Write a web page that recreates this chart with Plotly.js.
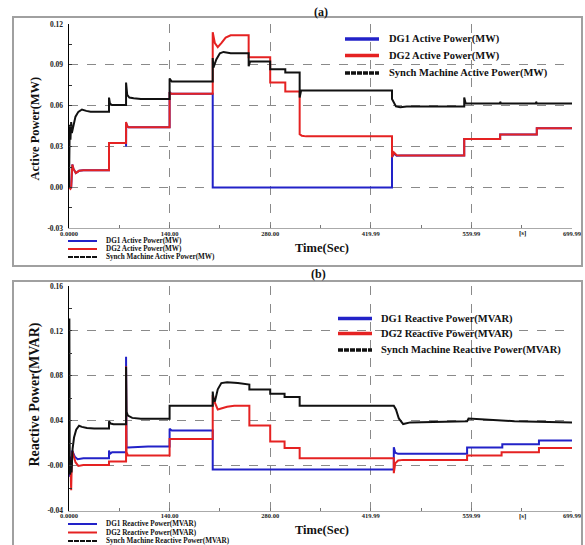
<!DOCTYPE html>
<html>
<head>
<meta charset="utf-8">
<script src="https://cdn.plot.ly/plotly-3.0.1.min.js"></script>
<style>html,body{margin:0;padding:0;background:#fff;}#chart{width:585px;height:545px;}</style>
</head>
<body>
<div id="chart"></div>
<script>
// ---------- Axis ticks ----------
const tickTimes = [0, 140, 280, 419.99, 559.99, 699.99];
const tickTimeLabels = ["0.0000", "140.00", "280.00", "419.99", "559.99", "699.99"];
const activeTicks = [-0.03, 0.00, 0.03, 0.06, 0.09, 0.12];
const activeTickLabels = ["-0.03", "0.00", "0.03", "0.06", "0.09", "0.12"];
const reactiveTicks = [-0.04, 0.00, 0.04, 0.08, 0.12, 0.16];
const reactiveTickLabels = ["-0.04", "-0.00", "0.04", "0.08", "0.12", "0.16"];

// ---------- Data: (a) Active power ----------
const tDG1a = [0, 2, 3, 4.6, 6, 9.5, 14, 20, 55.7, 55.7, 57, 79.4, 79.4, 79.6, 81, 83, 140, 140, 142, 200, 200, 449.5, 449.5, 452, 456, 462, 550, 550, 600, 600, 651, 651, 699.99];
const dg1Active = [0, 0, 0, 0.0168, 0.014, 0.0105, 0.0122, 0.0126, 0.0126, 0.0327, 0.0327, 0.0327, 0.030, 0.047, 0.045, 0.0442, 0.0442, 0.070, 0.0688, 0.0688, 0, 0, 0.0222, 0.0250, 0.0232, 0.0234, 0.0234, 0.0356, 0.0356, 0.0388, 0.0388, 0.0434, 0.0434];

const tDG2a = [0, 2, 3, 4.6, 6, 9.5, 14, 20, 55.7, 55.7, 57, 79.4, 79.4, 81, 83, 140, 140, 142, 200, 200, 203, 207, 212, 218, 225, 250, 250, 280, 280, 301, 301, 321, 321, 324, 330, 449.5, 449.5, 452, 456, 462, 550, 550, 600, 600, 651, 651, 699.99];
const dg2Active = [0, -0.001, 0, 0.0168, 0.014, 0.0105, 0.0122, 0.0126, 0.0126, 0.0327, 0.0327, 0.0327, 0.048, 0.045, 0.0442, 0.0442, 0.070, 0.0688, 0.0688, 0.114, 0.106, 0.103, 0.106, 0.110, 0.1117, 0.1117, 0.0956, 0.0956, 0.0771, 0.0771, 0.0705, 0.0705, 0.0390, 0.0380, 0.0375, 0.0375, 0.0222, 0.0258, 0.0236, 0.0234, 0.0234, 0.0356, 0.0356, 0.0388, 0.0388, 0.0434, 0.0434];

const tSynA = [0, 0.5, 1, 2, 3, 4, 6, 9, 13, 18, 24, 30, 55.7, 55.7, 57, 60, 79.4, 79.4, 81, 84, 90, 100, 140, 140, 143, 200, 200, 201, 205, 210, 215, 225, 250, 250, 252, 280, 280, 301, 301, 321, 321, 323, 449.5, 449.5, 455, 461, 470, 550, 550, 552, 600, 600, 601, 650, 650, 651, 699.99];
const synActive = [0, 0.030, 0.046, 0.035, 0.048, 0.040, 0.046, 0.052, 0.0555, 0.0572, 0.0562, 0.0555, 0.0555, 0.066, 0.0615, 0.0605, 0.0605, 0.077, 0.068, 0.066, 0.0655, 0.065, 0.065, 0.080, 0.0778, 0.0778, 0.095, 0.088, 0.094, 0.0985, 0.0995, 0.0985, 0.0985, 0.089, 0.0925, 0.0925, 0.0868, 0.0868, 0.0844, 0.0844, 0.066, 0.0712, 0.0712, 0.065, 0.0595, 0.0588, 0.0595, 0.0595, 0.066, 0.0617, 0.0617, 0.063, 0.0617, 0.0617, 0.063, 0.0617, 0.0617];

// ---------- Data: (b) Reactive power ----------
const tDG1r = [0, 1, 2, 3, 4, 5, 8, 12, 20, 55.7, 55.7, 57, 60, 79.4, 79.4, 80, 82, 110, 140, 140, 143, 200, 200, 452, 452, 454, 458, 554, 554, 603, 603, 654, 654, 699.99];
const dg1Reactive = [0.005, -0.010, 0.008, -0.005, 0.0125, 0.0125, 0.008, 0.0057, 0.0066, 0.0066, 0.0134, 0.0105, 0.012, 0.012, 0.097, 0.0161, 0.0161, 0.017, 0.017, 0.0328, 0.0313, 0.0313, -0.0035, -0.0035, 0.0164, 0.0115, 0.0105, 0.0105, 0.0161, 0.0161, 0.0191, 0.0191, 0.0224, 0.0224];

const tDG2r = [0, 1, 2, 3, 4, 5, 6, 9, 13, 20, 55.7, 55.7, 58, 79.4, 79.4, 80, 82, 140, 140, 200, 200, 203, 207, 212, 220, 230, 251, 251, 280, 280, 300, 300, 321, 321, 452, 452, 454, 458, 465, 554, 554, 602, 602, 654, 654, 699.99];
const dg2Reactive = [0.005, -0.005, 0.002, -0.022, 0.005, 0.0125, 0.010, 0.003, -0.0003, 0.0005, 0.0005, 0.0036, 0.0036, 0.0036, 0.0886, 0.012, 0.009, 0.009, 0.0236, 0.0236, 0.063, 0.056, 0.050, 0.051, 0.0525, 0.0534, 0.0534, 0.0358, 0.0358, 0.0215, 0.0215, 0.0156, 0.0156, 0.0066, 0.0066, -0.0068, 0.002, 0.0045, 0.0051, 0.0051, 0.009, 0.009, 0.012, 0.012, 0.0156, 0.0156];

const tSynR = [0, 0.5, 1, 1.5, 2.5, 3.5, 5, 7, 10, 14, 18, 25, 35, 55.7, 55.7, 58, 62, 79.4, 79.4, 80, 82, 88, 100, 120, 140, 140, 143, 200, 200, 201, 203, 207, 212, 220, 235, 251, 251, 280, 280, 300, 300, 321, 321, 452, 455, 459, 465, 475, 554, 554, 556, 620, 699.99];
const synReactive = [0.01, 0.131, 0.0, -0.008, 0.005, -0.006, 0.015, 0.025, 0.032, 0.0355, 0.0345, 0.0335, 0.0331, 0.0331, 0.0395, 0.0375, 0.0368, 0.0368, 0.088, 0.048, 0.0445, 0.0425, 0.0418, 0.0418, 0.0418, 0.0534, 0.0534, 0.0534, 0.066, 0.060, 0.057, 0.068, 0.0735, 0.0743, 0.0735, 0.0722, 0.0677, 0.0677, 0.0639, 0.0639, 0.0612, 0.0612, 0.0534, 0.0534, 0.050, 0.042, 0.037, 0.0385, 0.0394, 0.0394, 0.042, 0.0395, 0.0385];

const seriesNamesA = ["DG1 Active Power(MW)", "DG2 Active Power(MW)", "Synch Machine Active Power(MW)"];
const seriesNamesR = ["DG1 Reactive Power(MVAR)", "DG2 Reactive Power(MVAR)", "Synch Machine Reactive Power(MVAR)"];

// ---------- Styling ----------
const W = 585, H = 545;
const BLUE = "#2222c8", RED = "#e52222", BLACK = "#111111";
const colors = [BLUE, RED, BLACK];
const SERIF = "Liberation Serif, Times New Roman, serif";
const px = x => x / W;
const py = y => 1 - y / H;

function tr(x, y, c, xa, ya, name) {
  return {x: x, y: y, type: "scatter", mode: "lines", name: name,
          line: {color: c, width: 2}, xaxis: xa, yaxis: ya, showlegend: false, hoverinfo: "skip"};
}
const traces = [
  tr(tDG1a, dg1Active, BLUE, "x", "y", seriesNamesA[0]),
  tr(tDG2a, dg2Active, RED, "x", "y", seriesNamesA[1]),
  tr(tSynA, synActive, BLACK, "x", "y", seriesNamesA[2]),
  tr(tDG1r, dg1Reactive, BLUE, "x2", "y2", seriesNamesR[0]),
  tr(tDG2r, dg2Reactive, RED, "x2", "y2", seriesNamesR[1]),
  tr(tSynR, synReactive, BLACK, "x2", "y2", seriesNamesR[2])
];

const tickFont = {family: SERIF, size: 6.5, color: "#222", weight: "bold"};
function xAxis(anchor) {
  return {
    domain: [px(69), px(572)], anchor: anchor, range: [0, 699.99],
    tickmode: "array", tickvals: tickTimes, ticktext: tickTimeLabels,
    tickfont: tickFont, ticks: "inside", ticklen: 3, tickcolor: "#777", ticklabelstandoff: -1,
    showgrid: true, gridcolor: "#8a8a8a", griddash: "dash", gridwidth: 1,
    showline: true, linecolor: "#aaaaaa", linewidth: 1, zeroline: false,
    minor: {tickvals: [70, 210, 350, 489.99, 629.99], ticks: "inside", ticklen: 3, tickcolor: "#777", showgrid: false}
  };
}
function yAxis(anchor, dom, range, tv, tt, mdt) {
  return {
    domain: dom, anchor: anchor, range: range,
    tickmode: "array", tickvals: tv, ticktext: tt,
    tickfont: {family: SERIF, size: 7.5, color: "#222", weight: "bold"},
    ticks: "inside", ticklen: 3, tickcolor: "#333", ticklabelstandoff: 3,
    showgrid: true, gridcolor: "#8a8a8a", griddash: "dash", gridwidth: 1,
    showline: true, linecolor: "#000", linewidth: 1.5, zeroline: false,
    minor: {dtick: mdt, tick0: 0, ticks: "inside", ticklen: 3, tickcolor: "#333", showgrid: false}
  };
}

const shapes = [
  {type: "rect", xref: "paper", yref: "paper", x0: px(13), x1: px(582), y0: py(266), y1: py(17), line: {color: "#a0a0a0", width: 2}},
  {type: "rect", xref: "paper", yref: "paper", x0: px(13), x1: px(582), y0: py(548), y1: py(281), line: {color: "#a0a0a0", width: 2}}
];
const annotations = [];
function txt(x, y, s, size, opts) {
  annotations.push(Object.assign({xref: "paper", yref: "paper", x: px(x), y: py(y), text: s, showarrow: false,
    borderpad: 0, xanchor: "left", yanchor: "middle", font: {family: SERIF, size: size, color: "#111", weight: "bold"}}, opts || {}));
}
function legendBlock(x0, x1, xt, ys, names, size, lw) {
  names.forEach((n, i) => {
    shapes.push({type: "line", xref: "paper", yref: "paper", x0: px(x0), x1: px(x1), y0: py(ys[i]), y1: py(ys[i]),
      line: {color: colors[i], width: lw, dash: i === 2 ? "5px,1px" : "solid"}});
    txt(xt, ys[i], n, size);
  });
}
// inside legends
legendBlock(345, 379, 388, [39, 55.5, 73], seriesNamesA, 10.5, 3.5);
legendBlock(338, 372, 380, [318.5, 333.5, 350], seriesNamesR, 10.5, 3.5);
// legends under the axes
legendBlock(68, 97, 105, [241, 249, 257], seriesNamesA, 7.2, 2);
legendBlock(68, 97, 105, [524, 532.5, 541], seriesNamesR, 7.2, 2);

// titles
txt(320.5, 12, "(a)", 12, {xanchor: "center"});
txt(318.5, 274, "(b)", 12, {xanchor: "center"});
txt(322, 247.5, "Time(Sec)", 12.5, {xanchor: "center"});
txt(322, 530, "Time(Sec)", 12.5, {xanchor: "center"});
txt(522, 233, "[s]", 7, {xanchor: "center"});
txt(522, 516, "[s]", 7, {xanchor: "center"});
txt(34.5, 129, "Active Power(MW)", 12.5, {xanchor: "center", textangle: -90});
txt(34.5, 395, "Reactive Power(MVAR)", 14, {xanchor: "center", textangle: -90});

const layout = {
  width: W, height: H, autosize: false,
  margin: {l: 0, r: 0, t: 0, b: 0, pad: 0},
  paper_bgcolor: "#ffffff", plot_bgcolor: "#ffffff",
  showlegend: false,
  xaxis: xAxis("y"),
  yaxis: yAxis("x", [py(228.3), py(24)], [-0.03, 0.12], activeTicks, activeTickLabels, 0.015),
  xaxis2: xAxis("y2"),
  yaxis2: yAxis("x2", [py(510.5), py(286)], [-0.04, 0.16], reactiveTicks, reactiveTickLabels, 0.02),
  shapes: shapes, annotations: annotations
};
Plotly.newPlot("chart", traces, layout, {staticPlot: true, displayModeBar: false});
</script>
</body>
</html>
